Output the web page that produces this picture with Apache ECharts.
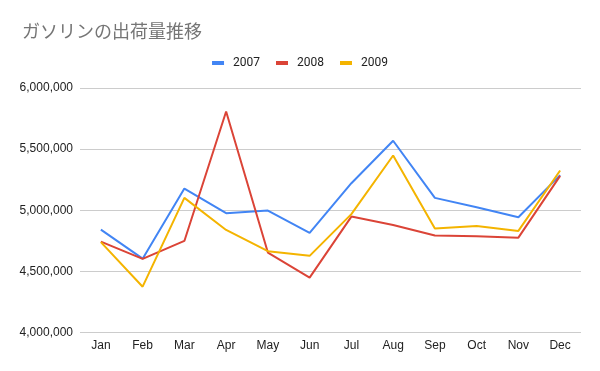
<!DOCTYPE html>
<html><head><meta charset="utf-8">
<script src="https://cdn.jsdelivr.net/npm/echarts@6/dist/echarts.min.js"></script>
<style>html,body{margin:0;padding:0;background:#fff}#c{width:600px;height:371px}</style>
</head><body><div id="c"></div>
<script>
const titleText = 'ガソリンの出荷量推移';
const months = ['Jan','Feb','Mar','Apr','May','Jun','Jul','Aug','Sep','Oct','Nov','Dec'];
const seriesNames = ['2007','2008','2009'];
const s2007 = [4843000,4605000,5178000,4977000,4998000,4816000,5222000,5569000,5102000,5026000,4944000,5288000];
const s2008 = [4745000,4603000,4750000,5808000,4655000,4450000,4949000,4881000,4794000,4789000,4777000,5282000];
const s2009 = [4740000,4376000,5102000,4840000,4666000,4628000,4969000,5448000,4851000,4873000,4832000,5326000];
const yTicks = [4000000,4500000,5000000,5500000,6000000];
const colors = ['#4285F4','#DB4437','#F4B400'];
const data = [s2007,s2008,s2009];

const chart = echarts.init(document.getElementById('c'));
chart.setOption({
  animation:false,
  textStyle:{fontFamily:'Arial, "Liberation Sans", sans-serif'},
  title:{text:titleText,left:17,top:17,textStyle:{fontSize:18,fontWeight:'normal',color:'#757575',fontFamily:'"Noto Sans CJK JP", sans-serif'}},
  legend:{top:52,left:'center',itemWidth:12,itemHeight:4,icon:'rect',itemGap:16,
    textStyle:{fontSize:12,color:'#222',fontFamily:'Roboto, sans-serif',padding:[0,0,0,4]},data:seriesNames},
  grid:{left:80,right:19,top:88,bottom:38.3},
  xAxis:{type:'category',data:months,boundaryGap:true,
    axisLine:{show:false},axisTick:{show:false},
    axisLabel:{color:'#222',fontSize:12,margin:7}},
  yAxis:{type:'value',min:yTicks[0],max:yTicks[yTicks.length-1],interval:500000,
    axisLine:{show:false},axisTick:{show:false},
    splitLine:{lineStyle:{color:'#cccccc'}},
    axisLabel:{color:'#222',fontSize:12,margin:7,formatter:v=>v.toLocaleString('en-US')}},
  series:seriesNames.map((n,i)=>({name:n,type:'line',data:data[i],symbol:'none',
    lineStyle:{width:2,color:colors[i]},itemStyle:{color:colors[i]}}))
});
</script></body></html>
